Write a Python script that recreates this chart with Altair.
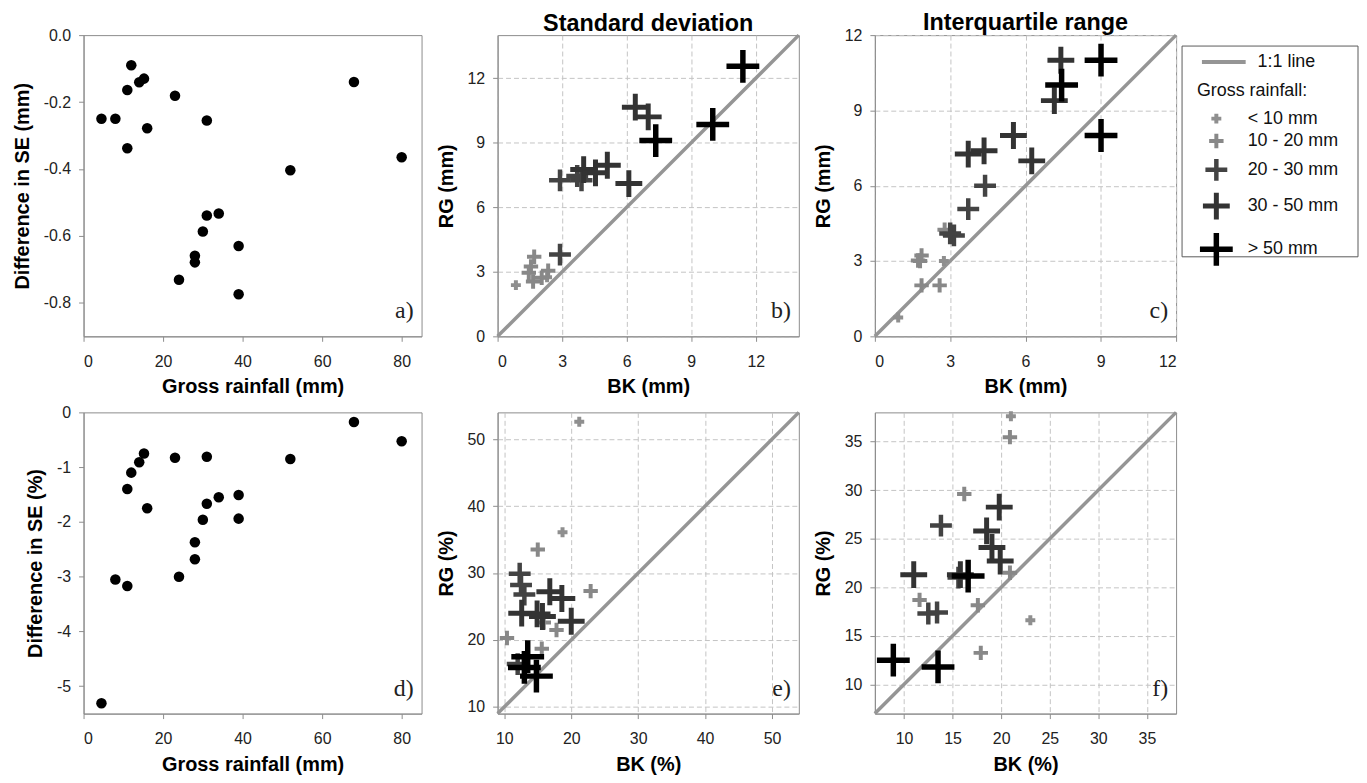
import altair as alt
import pandas as pd

SANS = "Liberation Sans"
SERIF = "Liberation Serif"

CATS = ["< 10 mm", "10 - 20 mm", "20 - 30 mm", "30 - 50 mm", "> 50 mm"]

# ---- panels a) and d): difference in SE versus gross rainfall
rain = [4.5, 8, 11, 11, 12, 14, 15.2, 16, 23, 24, 28, 28, 30, 31, 31, 34, 39, 39, 52, 68, 80]
se_mm = [-0.25, -0.25, -0.164, -0.338, -0.09, -0.141, -0.13, -0.278, -0.181, -0.731, -0.659,
         -0.679, -0.587, -0.255, -0.539, -0.533, -0.63, -0.774, -0.404, -0.14, -0.365]
se_pct = [-5.31, -3.05, -3.17, -1.40, -1.10, -0.91, -0.75, -1.75, -0.83, -3.0, -2.37,
          -2.68, -1.96, -0.81, -1.67, -1.55, -1.51, -1.94, -0.85, -0.175, -0.526]

# category index of each cross (0..4 -> CATS), same order in every panel
cross_cat = [0, 0, 1, 1, 1, 1, 1, 1, 2, 2, 2, 2, 3, 3, 3, 3, 3, 3, 4, 4, 4]

# ---- panel b): standard deviation (mm)
sd_mm_bk = [0.85, 2.3, 1.7, 1.55, 1.45, 1.65, 2.35, 2.05, 2.9, 2.9, 3.9, 3.7,
            4.0, 4.55, 5.1, 6.1, 6.4, 7.0, 11.4, 10.0, 7.35]
sd_mm_rg = [2.38, 2.75, 3.7, 3.25, 2.95, 2.55, 3.05, 2.72, 3.8, 7.25, 7.25, 7.45,
            7.75, 7.6, 7.95, 7.1, 10.65, 10.2, 12.55, 9.85, 9.1]

# ---- panel c): interquartile range (mm)
iqr_mm_bk = [0.93, 2.75, 1.72, 1.86, 1.86, 2.58, 2.78, 1.8, 3.15, 3.0, 3.72, 4.39,
             3.72, 4.35, 5.52, 6.25, 7.15, 7.41, 7.44, 9.01, 9.01]
iqr_mm_rg = [0.75, 3.0, 3.02, 3.22, 2.03, 2.03, 4.25, 3.0, 4.02, 4.1, 5.07, 6.0,
             7.26, 7.39, 8.0, 6.99, 9.39, 11.0, 10.01, 11.0, 8.0]

# ---- panel e): standard deviation (%)
sd_pct_bk = [21.2, 18.7, 15.0, 22.9, 10.4, 17.8, 15.6, 15.9, 12.3, 12.5, 13.0, 12.0,
             16.8, 18.6, 14.9, 12.6, 15.7, 20.0, 13.5, 13.0, 14.8]
sd_pct_rg = [52.6, 36.1, 33.5, 27.3, 20.3, 21.5, 18.7, 22.6, 29.9, 28.2, 26.8, 16.4,
             27.2, 26.2, 23.9, 24.0, 23.5, 22.8, 17.5, 15.9, 14.6]

# ---- panel f): interquartile range (%)
iqr_pct_bk = [21.0, 23.0, 20.9, 16.2, 11.6, 17.6, 17.9, 20.9, 13.8, 12.5, 13.4, 15.6,
              11.0, 15.8, 18.5, 19.05, 19.9, 19.8, 8.9, 13.5, 16.6]
iqr_pct_rg = [37.6, 16.6, 35.45, 29.6, 18.7, 18.15, 13.25, 21.5, 26.35, 17.3, 17.4, 21.0,
              21.3, 21.3, 25.8, 24.1, 22.7, 28.25, 12.5, 11.8, 21.15]

# ---- styles
CAT_COLORS = ["#8f8f8f", "#888888", "#434343", "#333333", "#000000"]
CAT_SIZES = [100, 210, 484, 729, 1089]
CAT_WIDTHS = [4, 4, 4.5, 5, 5.5]
CROSS = "M-1,0H1M0,-1V1"
LINE_COLOR = "#959595"
H = 303
W_SQ = 303
W_SE = 340
XLAB_PAD = 12
YLAB_PAD = 8


def x_axis(ticks, title, grid):
    return alt.Axis(values=ticks, title=title, grid=grid, labelPadding=XLAB_PAD, titlePadding=8)


def y_axis(ticks, title, grid, **kw):
    return alt.Axis(values=ticks, title=title, grid=grid, labelPadding=YLAB_PAD, titlePadding=11, **kw)


def letter_layer(letter, width):
    return alt.Chart(pd.DataFrame({"t": [letter]})).mark_text(
        font=SERIF, fontSize=24, align="right", baseline="middle", color="#222222"
    ).encode(text="t:N", x=alt.value(width - 8), y=alt.value(H - 25))


def se_panel(values, ymin, ticks, fmt, ytitle, letter):
    df = pd.DataFrame({"rain": rain, "d": values})
    pts = alt.Chart(df).mark_circle(size=112, color="black", opacity=1).encode(
        x=alt.X("rain:Q", scale=alt.Scale(domain=[0, 85], nice=False, zero=False),
                axis=x_axis([0, 20, 40, 60, 80], "Gross rainfall (mm)", False)),
        y=alt.Y("d:Q", scale=alt.Scale(domain=[ymin, 0], nice=False, zero=False),
                axis=y_axis(ticks, ytitle, False, format=fmt,
                            labelExpr="replace(datum.label, '\u2212', '-')")),
    )
    return alt.layer(pts, letter_layer(letter, W_SE)).properties(width=W_SE, height=H)


def cross_panel(bk, rg, lo, hi, ticks, unit, letter, title=None, legend=False):
    df = pd.DataFrame({"bk": bk, "rg": rg, "cat": [CATS[i] for i in cross_cat]})
    line_df = pd.DataFrame({"bk": [lo, hi], "rg": [lo, hi], "lab": ["1:1 line", "1:1 line"]})
    x = alt.X("bk:Q", scale=alt.Scale(domain=[lo, hi], nice=False, zero=False),
              axis=x_axis(ticks, f"BK ({unit})", True))
    y = alt.Y("rg:Q", scale=alt.Scale(domain=[lo, hi], nice=False, zero=False),
              axis=y_axis(ticks, f"RG ({unit})", True))

    if legend:
        cleg = alt.Legend(title="Gross rainfall:", orient="none", legendX=324, legendY=47,
                          titleFont=SANS, titleFontSize=18, titleFontWeight="normal",
                          titleColor="#111111", titlePadding=10, labelFont=SANS, labelFontSize=18,
                          labelColor="#111111", labelOffset=12, symbolType=CROSS,
                          symbolStrokeWidth=4.5, symbolOpacity=1, rowPadding=-12, padding=0)
        lleg = alt.Legend(title=None, orient="none", legendX=327, legendY=3, labelFont=SANS,
                          labelFontSize=18, labelColor="#111111", labelOffset=10,
                          symbolType="stroke", symbolStrokeWidth=4, symbolSize=1936, padding=0)
    else:
        cleg = None
        lleg = None

    line = alt.Chart(line_df).mark_line(strokeWidth=3.5, color=LINE_COLOR).encode(x=x, y=y)
    if legend:
        line = line.encode(color=alt.Color("lab:N", scale=alt.Scale(domain=["1:1 line"], range=[LINE_COLOR]),
                                           legend=lleg))

    crosses = alt.Chart(df).mark_point(shape=CROSS, filled=False, opacity=1).encode(
        x=x, y=y,
        stroke=alt.Stroke("cat:N", scale=alt.Scale(domain=CATS, range=CAT_COLORS), legend=cleg),
        size=alt.Size("cat:N", scale=alt.Scale(type="ordinal", domain=CATS, range=CAT_SIZES), legend=cleg),
        strokeWidth=alt.StrokeWidth("cat:N", scale=alt.Scale(type="ordinal", domain=CATS, range=CAT_WIDTHS),
                                    legend=None),
    )
    layers = [line, crosses, letter_layer(letter, W_SQ)]
    if legend:
        frame = alt.Chart(pd.DataFrame({"k": [0]})).mark_rect(
            filled=False, stroke="#5a5a5a", strokeWidth=1
        ).encode(x=alt.value(309), x2=alt.value(486), y=alt.value(11), y2=alt.value(223))
        layers.append(frame)
    ch = alt.layer(*layers).resolve_scale(color="independent")
    props = dict(width=W_SQ, height=H)
    if title:
        props["title"] = alt.TitleParams(title, offset=-7, frame="group")
    return ch.properties(**props)


pa = se_panel(se_mm, -0.9, [0, -0.2, -0.4, -0.6, -0.8], ".1f", "Difference in SE (mm)", "a)")
pd_ = se_panel(se_pct, -5.5, [0, -1, -2, -3, -4, -5], "d", "Difference in SE (%)", "d)")
pb = cross_panel(sd_mm_bk, sd_mm_rg, 0, 14, [0, 3, 6, 9, 12], "mm", "b)", title="Standard deviation")
pc = cross_panel(iqr_mm_bk, iqr_mm_rg, 0, 12, [0, 3, 6, 9, 12], "mm", "c)", title="Interquartile range",
                 legend=True)
pe = cross_panel(sd_pct_bk, sd_pct_rg, 9, 54, [10, 20, 30, 40, 50], "%", "e)")
pf = cross_panel(iqr_pct_bk, iqr_pct_rg, 7, 38, [10, 15, 20, 25, 30, 35], "%", "f)")

chart = alt.concat(pa, pb, pc, pd_, pe, pf, columns=3, spacing=76.5, bounds="flush").resolve_scale(
    stroke="independent", size="independent", strokeWidth="independent", color="independent"
).properties(
    padding={"left": 3, "top": 0, "right": 0, "bottom": 0}
).configure_axis(
    labelFont=SANS, labelFontSize=16, labelColor="#222222",
    titleFont=SANS, titleFontSize=20, titleFontWeight="bold", titleColor="#000000",
    domainColor="#8c8c8c", tickColor="#8c8c8c", tickSize=5,
    gridColor="#c4c4c4", gridDash=[5, 3], gridWidth=1,
).configure_view(stroke="#8c8c8c", strokeWidth=1).configure_title(
    font=SANS, fontSize=23.5, fontWeight="bold", color="#000000"
)

chart.save("out.html", embed_options={"renderer": "svg", "actions": False})
